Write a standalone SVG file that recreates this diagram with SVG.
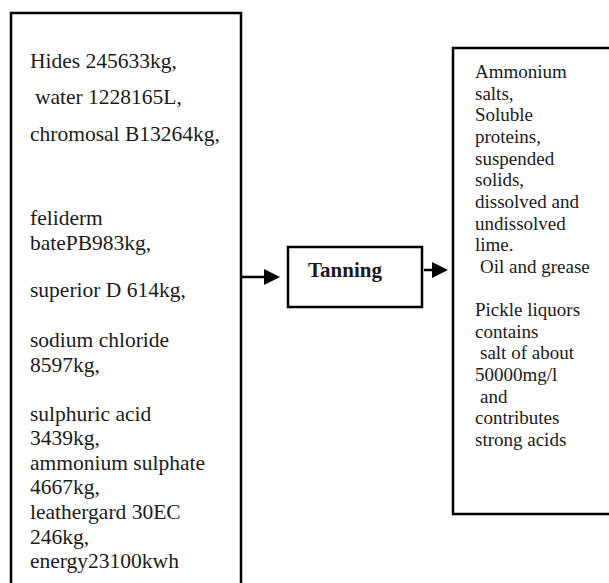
<svg xmlns="http://www.w3.org/2000/svg" width="609" height="583" viewBox="0 0 609 583">
<style>
.box{fill:#fff;stroke:#000;stroke-width:2.5}
.t{font-family:"Liberation Serif","Times New Roman",serif;fill:#1a1a1a}
.l{font-size:21.5px}
.r{font-size:19px}
.b{font-size:21px;font-weight:bold}
.ln{stroke:#000;stroke-width:2.5;fill:none}
</style>
<rect width="609" height="583" fill="#fff"/>
<g id="inputs">
<rect class="box" x="11" y="13" width="230" height="600"/>
<g class="t l">
<text x="30" y="68">Hides 245633kg,</text>
<text x="35" y="104">water 1228165L,</text>
<text x="30" y="141">chromosal B13264kg,</text>
<text x="30" y="225">feliderm</text>
<text x="30" y="250">batePB983kg,</text>
<text x="30" y="297">superior D 614kg,</text>
<text x="30" y="347">sodium chloride</text>
<text x="30" y="372">8597kg,</text>
<text x="30" y="421">sulphuric acid</text>
<text x="30" y="445">3439kg,</text>
<text x="30" y="470">ammonium sulphate</text>
<text x="30" y="494">4667kg,</text>
<text x="30" y="519">leathergard 30EC</text>
<text x="30" y="544">246kg,</text>
<text x="30" y="568">energy23100kwh</text>
</g>
</g>
<g id="tanning">
<rect class="box" x="288" y="247" width="134" height="60" stroke-width="2"/>
<text class="t b" x="308" y="277">Tanning</text>
</g>
<g id="outputs">
<rect class="box" x="453" y="48" width="170" height="466"/>
<g class="t r">
<text x="475" y="78">Ammonium</text>
<text x="475" y="100">salts,</text>
<text x="475" y="121">Soluble</text>
<text x="475" y="143">proteins,</text>
<text x="475" y="165">suspended</text>
<text x="475" y="186">solids,</text>
<text x="475" y="208">dissolved and</text>
<text x="475" y="230">undissolved</text>
<text x="475" y="251">lime.</text>
<text x="480" y="273">Oil and grease</text>
<text x="475" y="316">Pickle liquors</text>
<text x="475" y="338">contains</text>
<text x="480" y="359">salt of about</text>
<text x="475" y="381">50000mg/l</text>
<text x="480" y="403">and</text>
<text x="475" y="424">contributes</text>
<text x="475" y="446">strong acids</text>
</g>
</g>
<g id="connectors">
<line class="ln" x1="241" y1="277" x2="266" y2="277"/>
<polygon points="264,269 280,277 264,285" fill="#000"/>
<line class="ln" x1="424" y1="270" x2="434" y2="270"/>
<polygon points="432,262 448,270 432,278" fill="#000"/>
</g>
</svg>
